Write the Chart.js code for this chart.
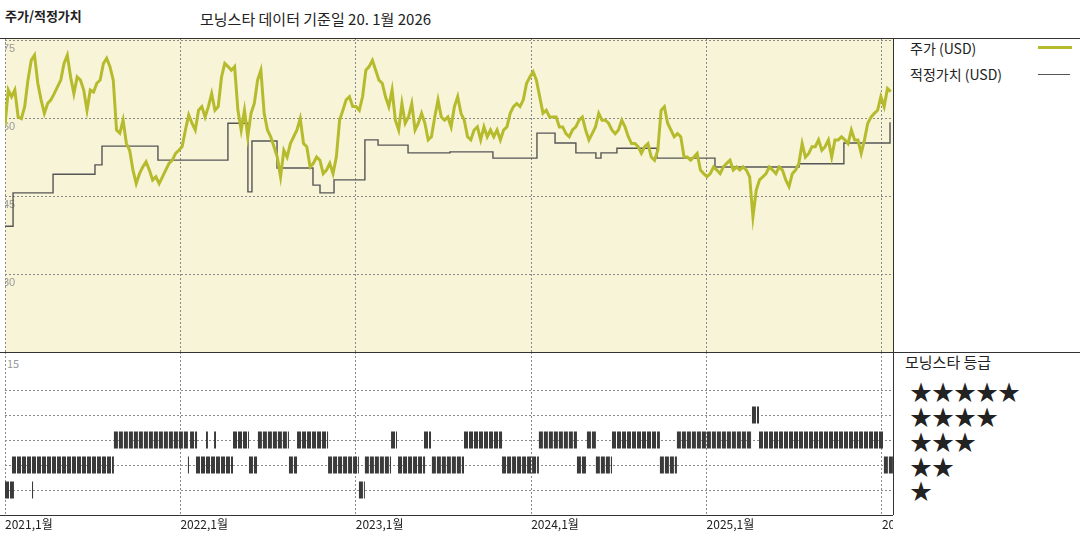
<!DOCTYPE html>
<html><head><meta charset="utf-8">
<script src="https://cdn.jsdelivr.net/npm/chart.js@4"></script>
<style>
body{margin:0;width:1080px;height:540px;position:relative;background:#fff;font-family:"Noto Sans CJK KR","Noto Sans",sans-serif;overflow:hidden}
.a{position:absolute;white-space:nowrap;color:#222}
.l{position:absolute;background:#333}
</style></head><body>
<div class="a" style="left:5px;top:6px;font-size:13px;font-weight:bold">주가/적정가치</div>
<div class="a" style="left:200px;top:8px;font-size:15px">모닝스타 데이터 기준일 20. 1월 2026</div>
<div class="a" style="left:910px;top:38px;font-size:14px">주가 (USD)</div>
<div class="l" style="left:1038px;top:46px;width:34px;height:3px;background:#b5bb2c"></div>
<div class="a" style="left:910px;top:64px;font-size:14px">적정가치 (USD)</div>
<div class="l" style="left:1038px;top:74px;width:32px;height:1px;background:#555"></div>
<div class="a" style="left:905px;top:351px;font-size:15px">모닝스타 등급</div>
<div class="a" style="left:7px;top:355px;font-size:11px;color:#999">15</div>
<div class="a" style="left:910px;top:376px;font-size:22px;line-height:28px">★★★★★</div>
<div class="a" style="left:910px;top:401px;font-size:22px;line-height:28px">★★★★</div>
<div class="a" style="left:910px;top:426px;font-size:22px;line-height:28px">★★★</div>
<div class="a" style="left:910px;top:451px;font-size:22px;line-height:28px">★★</div>
<div class="a" style="left:910px;top:475px;font-size:22px;line-height:28px">★</div>
<div style="position:absolute;left:5px;top:38px;width:888px;height:314px"><canvas id="c1"></canvas></div>
<div style="position:absolute;left:5px;top:352px;width:888px;height:186px"><canvas id="c2"></canvas></div>
<div class="l" style="left:0;top:38px;width:1080px;height:1px"></div>
<div class="l" style="left:0;top:352px;width:1080px;height:1px"></div>
<div class="l" style="left:893px;top:38px;width:1px;height:477px"></div>
<div class="l" style="left:0;top:515px;width:893px;height:1px"></div>
<script>
const xMin = 2021.0, xMax = 2026.063;
const years = [2021, 2022, 2023, 2024, 2025, 2026];
const priceStart = 2021.0, priceEnd = 2026.05;
const priceValues = [
58.6,65.4,64.1,65.4,60.2,59.9,62.2,67.3,71.1,72.1,
66.7,63.5,60.9,62.8,63.5,64.7,66.0,67.3,70.5,72.1,
67.9,64.7,67.9,67.3,65.4,61.5,65.4,65.0,66.7,67.3,
70.5,71.5,69.9,67.3,57.7,57.1,59.6,55.1,53.8,50.0,
47.4,49.3,50.6,51.6,50.0,48.1,48.7,47.4,48.7,50.0,
51.3,51.9,53.2,53.8,54.5,57.7,60.6,59.0,57.7,61.5,
62.2,60.2,62.2,64.7,61.5,62.2,67.9,70.5,69.9,69.2,
69.9,61.5,57.7,61.5,56.4,60.9,62.8,67.3,69.2,60.9,
57.7,56.4,54.5,52.5,48.7,53.8,52.5,55.1,56.4,57.7,
59.9,55.1,54.5,50.6,51.3,52.5,51.9,49.3,50.0,51.3,
49.3,52.5,59.6,61.5,63.5,64.1,62.2,62.2,61.5,64.1,
69.2,69.9,71.1,69.2,67.3,66.7,64.1,62.2,65.4,59.6,
57.7,62.8,59.0,60.2,62.8,57.7,59.0,60.9,59.0,55.8,
56.4,60.2,63.5,60.2,59.6,60.2,58.3,62.2,
64.1,60.9,59.6,56.4,55.8,57.7,58.3,55.8,58.3,56.4,
57.7,56.4,57.7,55.8,57.7,58.3,60.9,62.2,62.8,62.2,
63.5,66.7,67.9,68.9,67.3,64.1,60.9,61.5,60.2,60.2,
60.2,58.3,58.3,57.0,56.4,57.7,58.3,59.6,60.2,57.7,
55.8,57.0,58.3,60.9,59.6,59.6,59.0,57.7,57.0,57.7,
59.6,58.3,56.4,55.1,55.1,54.5,53.2,54.5,55.1,52.5,
51.9,53.8,61.5,62.2,59.0,57.7,56.4,57.0,56.4,52.5,
52.5,51.9,52.5,53.2,50.0,49.3,48.7,49.3,50.6,50.0,
49.3,50.6,51.3,51.9,50.0,50.6,50.0,50.6,50.0,48.7,
41.0,46.1,48.1,48.7,49.3,50.6,50.0,49.3,50.6,50.0,
48.1,46.8,49.3,50.0,51.3,55.1,52.5,53.2,54.5,54.5,
55.8,53.8,54.5,55.8,52.5,55.8,55.8,56.4,55.8,55.1,
57.7,55.8,55.8,53.2,55.8,59.0,60.2,60.9,61.5,64.1,
62.2,65.7,65.1];
const fairDates = [2021.0,2021.046,2021.274,2021.513,2021.553,2021.872,2022.271,2022.385,2022.408,2022.551,2022.756,2022.796,2022.876,2023.052,2023.127,2023.298,2023.537,2023.782,2024.033,2024.136,2024.255,2024.369,2024.398,2024.489,2024.717,2025.048,2025.527,2025.783,2026.046];
const fairValues = [39.2,45.6,49.2,51.0,54.6,51.9,59.0,45.8,55.6,50.4,47.1,45.6,48.1,55.8,54.8,53.3,53.5,52.3,57.1,55.2,53.3,52.3,53.3,54.2,52.3,50.6,51.2,55.2,59.2];
const ratingStart = [2021.0,2021.154,2023.018,
 2021.040,2022.043,2022.089,2022.391,2022.619,2022.842,2023.052,2023.241,2023.434,2023.834,2024.261,2024.369,2024.734,2026.011,
 2021.621,2022.055,2022.146,2022.192,2022.300,2022.442,2022.665,2023.201,2023.389,2023.617,2024.044,2024.318,2024.461,2024.831,2025.299,
 2025.259];
const ratingEnd = [2021.051,2021.160,2023.052,
 2021.621,2022.049,2022.300,2022.437,2022.665,2023.018,2023.201,2023.395,2023.617,2024.044,2024.318,2024.461,2024.831,2026.063,
 2022.043,2022.095,2022.157,2022.203,2022.391,2022.619,2022.842,2023.235,2023.429,2023.834,2024.261,2024.369,2024.734,2025.259,2026.006,
 2025.299];
const ratingStars = [1,1,1, 2,2,2,2,2,2,2,2,2,2,2,2,2,2, 3,3,3,3,3,3,3,3,3,3,3,3,3,3,3, 4];

const n = priceValues.length;
const priceData = priceValues.map((v,i)=>({x: priceStart + i*(priceEnd-priceStart)/(n-1), y: v}));
const fairData = fairDates.map((d,i)=>({x:d, y:fairValues[i]}));

const bgPlugin = {id:'bg', beforeDraw(c){const a=c.chartArea,ctx=c.ctx;ctx.save();ctx.fillStyle='#f8f4d8';ctx.fillRect(a.left,a.top,a.right-a.left,a.bottom-a.top);ctx.restore();}};
const gridCommon = {color:'#8a8a8a', drawTicks:false, lineWidth:1};
const yearTicks = s => { s.ticks = years.map(v=>({value:v})); };

new Chart(document.getElementById('c1'), {
  type:'line',
  data:{datasets:[
    {data:fairData, borderColor:'#555', borderWidth:1.4, pointRadius:0, stepped:'before', order:2},
    {data:priceData, borderColor:'#b5bb2c', borderWidth:3, pointRadius:0, tension:0, order:1}
  ]},
  options:{responsive:true, maintainAspectRatio:false, animation:false, layout:{padding:0},
    plugins:{legend:{display:false}, tooltip:{enabled:false}},
    scales:{
      x:{type:'linear', min:xMin, max:xMax, afterBuildTicks:yearTicks, ticks:{display:false}, grid:gridCommon, border:{display:false, dash:[2,2]}, afterFit:s=>{s.height=0;s.paddingLeft=0;s.paddingRight=0;}},
      y:{min:15, max:75.4, afterBuildTicks:s=>{s.ticks=[15,30,45,60,75].map(v=>({value:v}));},
         ticks:{mirror:true, padding:-2, labelOffset:9, color:'#999', font:{size:11}, callback:v=>v===15?'':v},
         grid:gridCommon, border:{display:false, dash:[2,2]}, afterFit:s=>{s.width=0;s.paddingTop=0;s.paddingBottom=0;}}
    }},
  plugins:[bgPlugin]
});

const ratingSets = ratingStart.map((s,i)=>({
  data:[{x:s,y:ratingStars[i]},{x:ratingEnd[i],y:ratingStars[i]}],
  borderColor:'#3a3a3a', borderWidth:17, borderCapStyle:'butt', borderDash:[4,1], pointRadius:0
}));
new Chart(document.getElementById('c2'), {
  type:'line',
  data:{datasets:ratingSets},
  options:{responsive:true, maintainAspectRatio:false, animation:false, layout:{padding:0},
    plugins:{legend:{display:false}, tooltip:{enabled:false}},
    scales:{
      x:{type:'linear', min:xMin, max:xMax, afterBuildTicks:yearTicks,
         ticks:{display:true, align:'start', maxRotation:0, autoSkip:false, color:'#222', font:{size:12, family:'"Noto Sans CJK KR"'}, padding:2, callback:v=>v+',1월'},
         grid:gridCommon, border:{display:false, dash:[2,2]}, afterFit:s=>{s.height=23;s.paddingLeft=0;s.paddingRight=0;}},
      y:{min:0, max:6.52, afterBuildTicks:s=>{s.ticks=[1,2,3,4,5].map(v=>({value:v}));},
         ticks:{display:false}, grid:gridCommon, border:{display:false, dash:[2,2]}, afterFit:s=>{s.width=0;s.paddingTop=0;s.paddingBottom=0;}}
    }}
});
</script></body></html>
